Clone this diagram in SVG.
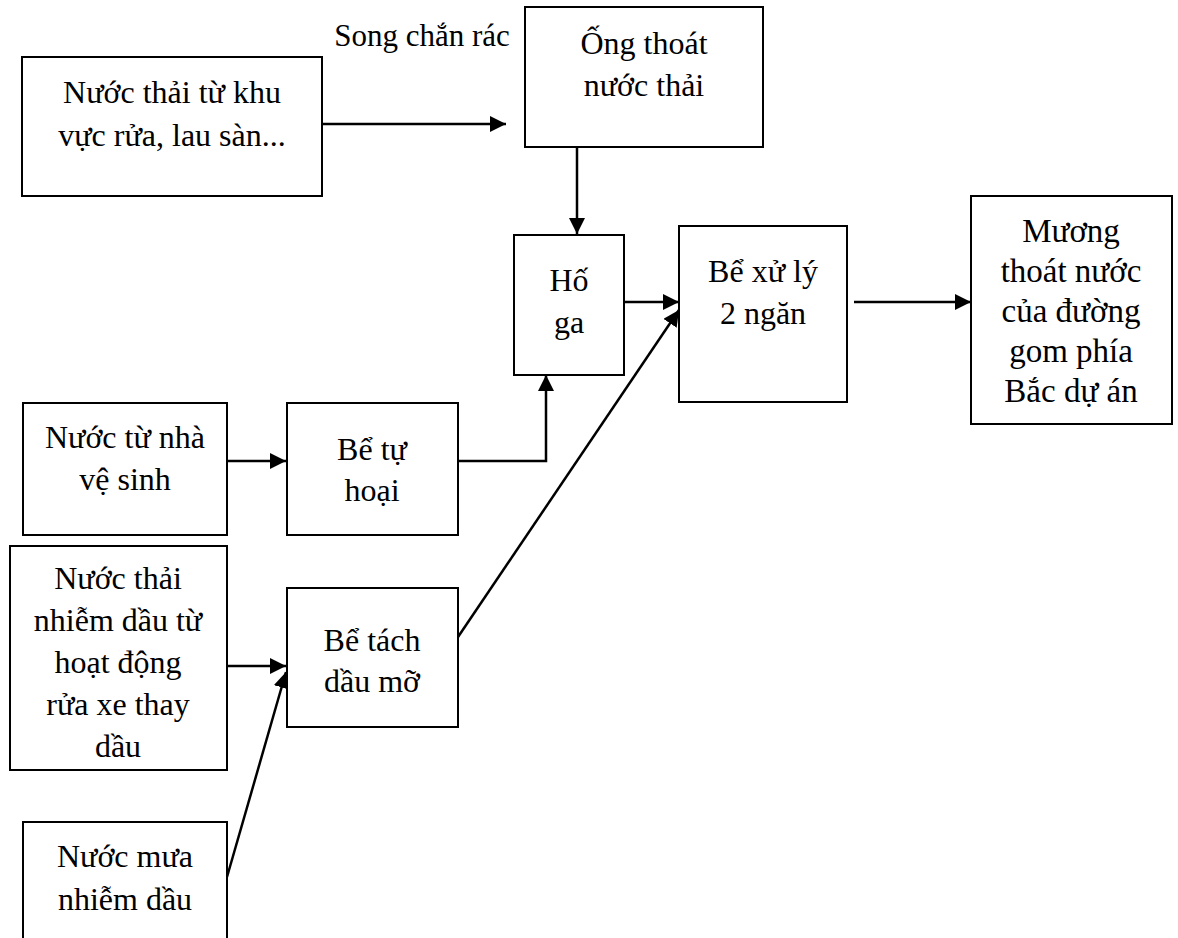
<svg xmlns="http://www.w3.org/2000/svg" width="1178" height="938" viewBox="0 0 1178 938">
  <style>
    .box { fill: #ffffff; stroke: #000000; stroke-width: 2; }
    .lbl { font-family: "Liberation Serif", "Times New Roman", serif; font-size: 32px; fill: #000000; text-anchor: middle; }
    .big { font-size: 33px; }
    .note { font-size: 31px; }
    .cn { fill: none; stroke: #000000; stroke-width: 2.5; }
  </style>
  <defs>
    <marker id="ah" markerUnits="userSpaceOnUse" markerWidth="17" markerHeight="16" refX="16" refY="8" orient="auto">
      <path d="M0,0 L16,8 L0,16 z" fill="#000000"/>
    </marker>
  </defs>
  <rect width="1178" height="938" fill="#ffffff"/>

  <g id="connectors">
    <line class="cn" x1="322" y1="124" x2="506" y2="124" marker-end="url(#ah)"/>
    <line class="cn" x1="577" y1="147" x2="577" y2="234" marker-end="url(#ah)"/>
    <line class="cn" x1="624" y1="302" x2="679" y2="302" marker-end="url(#ah)"/>
    <line class="cn" x1="854" y1="302" x2="971" y2="302" marker-end="url(#ah)"/>
    <line class="cn" x1="227" y1="461" x2="286" y2="461" marker-end="url(#ah)"/>
    <polyline class="cn" points="458,461 546,461 546,375" marker-end="url(#ah)"/>
    <line class="cn" x1="227" y1="666" x2="286" y2="666" marker-end="url(#ah)"/>
    <line class="cn" x1="458" y1="637" x2="679" y2="310" marker-end="url(#ah)"/>
    <line class="cn" x1="227" y1="877" x2="286" y2="672" marker-end="url(#ah)"/>
  </g>

  <text class="lbl note" x="422" y="46">Song chắn rác</text>

  <g id="node-nuoc-thai-khu-vuc-rua">
    <rect class="box" x="22" y="57" width="300" height="139"/>
    <text class="lbl" x="172" y="103">Nước thải từ khu</text>
    <text class="lbl" x="172" y="146">vực rửa, lau sàn...</text>
  </g>

  <g id="node-ong-thoat-nuoc-thai">
    <rect class="box" x="525" y="7" width="238" height="140"/>
    <text class="lbl" x="644" y="54">Ống thoát</text>
    <text class="lbl" x="644" y="96">nước thải</text>
  </g>

  <g id="node-ho-ga">
    <rect class="box" x="514" y="235" width="110" height="140"/>
    <text class="lbl" x="569" y="291">Hố</text>
    <text class="lbl" x="569" y="333">ga</text>
  </g>

  <g id="node-be-xu-ly-2-ngan">
    <rect class="box" x="679" y="226" width="168" height="176"/>
    <text class="lbl" x="763" y="282">Bể xử lý</text>
    <text class="lbl" x="763" y="324">2 ngăn</text>
  </g>

  <g id="node-muong-thoat-nuoc">
    <rect class="box" x="971" y="196" width="201" height="228"/>
    <text class="lbl big" x="1071" y="242">Mương</text>
    <text class="lbl big" x="1071" y="282">thoát nước</text>
    <text class="lbl big" x="1071" y="322">của đường</text>
    <text class="lbl big" x="1071" y="362">gom phía</text>
    <text class="lbl big" x="1071" y="402">Bắc dự án</text>
  </g>

  <g id="node-nuoc-nha-ve-sinh">
    <rect class="box" x="23" y="403" width="204" height="132"/>
    <text class="lbl" x="125" y="448">Nước từ nhà</text>
    <text class="lbl" x="125" y="490">vệ sinh</text>
  </g>

  <g id="node-be-tu-hoai">
    <rect class="box" x="287" y="403" width="171" height="132"/>
    <text class="lbl" x="372" y="460">Bể tự</text>
    <text class="lbl" x="372" y="501">hoại</text>
  </g>

  <g id="node-nuoc-thai-nhiem-dau">
    <rect class="box" x="10" y="546" width="217" height="224"/>
    <text class="lbl" x="118" y="589">Nước thải</text>
    <text class="lbl" x="118" y="631">nhiễm dầu từ</text>
    <text class="lbl" x="118" y="673">hoạt động</text>
    <text class="lbl" x="118" y="715">rửa xe thay</text>
    <text class="lbl" x="118" y="757">dầu</text>
  </g>

  <g id="node-be-tach-dau-mo">
    <rect class="box" x="287" y="588" width="171" height="139"/>
    <text class="lbl" x="372" y="651">Bể tách</text>
    <text class="lbl" x="372" y="692">dầu mỡ</text>
  </g>

  <g id="node-nuoc-mua-nhiem-dau">
    <rect class="box" x="23" y="822" width="204" height="140"/>
    <text class="lbl" x="125" y="867">Nước mưa</text>
    <text class="lbl" x="125" y="910">nhiễm dầu</text>
  </g>
</svg>
